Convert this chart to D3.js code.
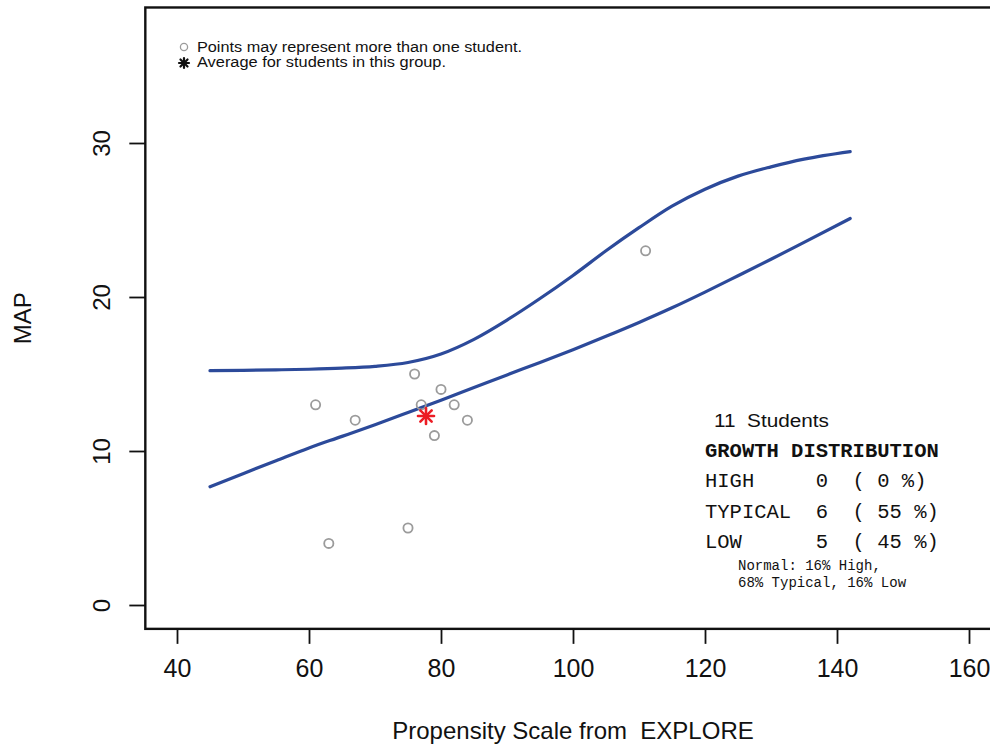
<!DOCTYPE html>
<html>
<head>
<meta charset="utf-8">
<script src="https://cdn.jsdelivr.net/npm/d3@7"></script>
<style>
  html, body { margin: 0; padding: 0; background: #fff; }
  svg { display: block; }
  text { font-family: "Liberation Sans", Arial, Helvetica, sans-serif; fill: #111; white-space: pre; }
  .mono { font-family: "Liberation Mono", "Courier New", Courier, monospace; }
</style>
</head>
<body>
<svg id="chart" width="990" height="744"></svg>
<script>
// Students: propensity score (x) and MAP score (y)
const studentX = [76, 80, 61, 77, 82, 67, 84, 79, 63, 75, 111];
const studentY = [15, 14, 13, 13, 13, 12, 12, 11, 4, 5, 23];

// Growth band boundaries
const bandX     = [45, 50, 55, 60, 65, 70, 75, 80, 85, 90, 95, 100, 105, 110, 115, 120, 125, 130, 135, 142];
const upperBand = [15.22, 15.24, 15.27, 15.31, 15.38, 15.5, 15.75, 16.3, 17.25, 18.5, 19.9, 21.4, 23.0, 24.5, 25.9, 27.0, 27.85, 28.45, 28.95, 29.44];
const lowerBand = [7.68, 8.53, 9.37, 10.2, 10.95, 11.71, 12.5, 13.3, 14.12, 14.94, 15.75, 16.58, 17.45, 18.35, 19.3, 20.32, 21.38, 22.45, 23.55, 25.1];

// Axis ticks and plot limits
const xTicks = [40, 60, 80, 100, 120, 140, 160];
const yTicks = [0, 10, 20, 30];
const xLimits = [35.2, 164.8];
const yLimits = [-1.55, 38.8];

// Summary table
const studentCount = 11;
const groupNames  = ["HIGH", "TYPICAL", "LOW"];
const groupCounts = [0, 6, 5];
const groupPcts   = [0, 55, 45];
const normalNote  = ["Normal: 16% High,", "68% Typical, 16% Low"];

const svg = d3.select("#chart");
const x = d3.scaleLinear().domain([40, 160]).range([177, 969]);
const y = d3.scaleLinear().domain([0, 30]).range([605, 143]);

const blue = "#2c4a9a";

// Plot frame
svg.append("rect")
  .attr("x", x(xLimits[0])).attr("y", y(yLimits[1]))
  .attr("width", x(xLimits[1]) - x(xLimits[0]))
  .attr("height", y(yLimits[0]) - y(yLimits[1]))
  .attr("fill", "none").attr("stroke", "#111").attr("stroke-width", 2.4);

// X axis
const xAxis = svg.append("g")
  .attr("transform", `translate(0,${y(yLimits[0])})`)
  .call(d3.axisBottom(x).tickValues(xTicks).tickSize(15).tickSizeOuter(0).tickPadding(15));
xAxis.select(".domain").remove();
xAxis.selectAll(".tick line").attr("stroke", "#111").attr("stroke-width", 1.8);
xAxis.selectAll(".tick text")
  .attr("fill", "#111").style("font-size", "25px")
  .style("font-family", "'Liberation Sans', Arial, sans-serif");

// Y axis, labels turned to read upward
const yAxis = svg.append("g")
  .attr("transform", `translate(${x(xLimits[0])},0)`)
  .call(d3.axisLeft(y).tickValues(yTicks).tickSize(16).tickSizeOuter(0));
yAxis.select(".domain").remove();
yAxis.selectAll(".tick line").attr("stroke", "#111").attr("stroke-width", 1.8);
yAxis.selectAll(".tick text")
  .attr("fill", "#111").style("font-size", "24px")
  .style("font-family", "'Liberation Sans', Arial, sans-serif")
  .attr("text-anchor", "middle")
  .attr("x", 0).attr("y", 0)
  .attr("transform", "translate(-44,0) rotate(-90)")
  .attr("dy", "0.36em");

// Axis titles
svg.append("text")
  .attr("x", (x(xLimits[0]) + x(xLimits[1])) / 2).attr("y", 739)
  .attr("text-anchor", "middle").style("font-size", "24px")
  .text("Propensity Scale from  EXPLORE");
svg.append("text")
  .attr("transform", `translate(31,${(y(yLimits[0]) + y(yLimits[1])) / 2}) rotate(-90)`)
  .attr("text-anchor", "middle").style("font-size", "24px")
  .text("MAP");

// Band curves
const bandLine = d3.line().curve(d3.curveMonotoneX).x(d => x(d[0])).y(d => y(d[1]));
[upperBand, lowerBand].forEach(band => {
  svg.append("path")
    .datum(bandX.map((v, i) => [v, band[i]]))
    .attr("d", bandLine)
    .attr("fill", "none").attr("stroke", blue)
    .attr("stroke-width", 3.2).attr("stroke-linecap", "round");
});

// Student points
svg.append("g").selectAll("circle")
  .data(studentX.map((v, i) => [v, studentY[i]]))
  .join("circle")
  .attr("cx", d => x(d[0])).attr("cy", d => y(d[1])).attr("r", 4.6)
  .attr("fill", "none").attr("stroke", "#9b9b9b").attr("stroke-width", 1.8);

// Asterisk marker (plus and cross)
function asterisk(g, cx, cy, r, color, w) {
  const d = r * Math.SQRT1_2;
  const segs = [[0, -r, 0, r], [-r, 0, r, 0], [-d, -d, d, d], [-d, d, d, -d]];
  g.append("g").selectAll("line").data(segs).join("line")
    .attr("x1", s => cx + s[0]).attr("y1", s => cy + s[1])
    .attr("x2", s => cx + s[2]).attr("y2", s => cy + s[3])
    .attr("stroke", color).attr("stroke-width", w).attr("stroke-linecap", "round");
}
const avgX = d3.mean(studentX), avgY = d3.mean(studentY);
asterisk(svg, x(avgX), y(avgY), 8, "#ec1c24", 2.6);

// Legend
svg.append("circle").attr("cx", 184).attr("cy", 47).attr("r", 3.6)
  .attr("fill", "none").attr("stroke", "#9b9b9b").attr("stroke-width", 1.3);
asterisk(svg, 184, 63, 5, "#111", 2.2);
svg.append("text").attr("x", 197).attr("y", 52)
  .style("font-size", "14px").attr("textLength", 325).attr("lengthAdjust", "spacingAndGlyphs")
  .text("Points may represent more than one student.");
svg.append("text").attr("x", 197).attr("y", 67)
  .style("font-size", "14px").attr("textLength", 249).attr("lengthAdjust", "spacingAndGlyphs")
  .text("Average for students in this group.");

// Summary table
svg.append("text").attr("x", 714).attr("y", 427)
  .style("font-size", "18px").attr("textLength", 115).attr("lengthAdjust", "spacingAndGlyphs")
  .text(`${studentCount}  Students`);
svg.append("text").attr("class", "mono").attr("x", 705).attr("y", 457)
  .style("font-size", "20.5px").style("font-weight", "bold")
  .text("GROWTH DISTRIBUTION");
groupNames.forEach((name, i) => {
  const row = name.padEnd(9, " ") + groupCounts[i] + "  ( " + groupPcts[i] + " %)";
  svg.append("text").attr("class", "mono").attr("x", 705).attr("y", 487 + i * 30.5)
    .style("font-size", "20.5px").attr("fill", "#222")
    .text(row);
});
normalNote.forEach((line, i) => {
  svg.append("text").attr("class", "mono").attr("x", 738).attr("y", 570 + i * 17)
    .style("font-size", "14px").attr("fill", "#666")
    .text(line);
});
</script>
</body>
</html>
